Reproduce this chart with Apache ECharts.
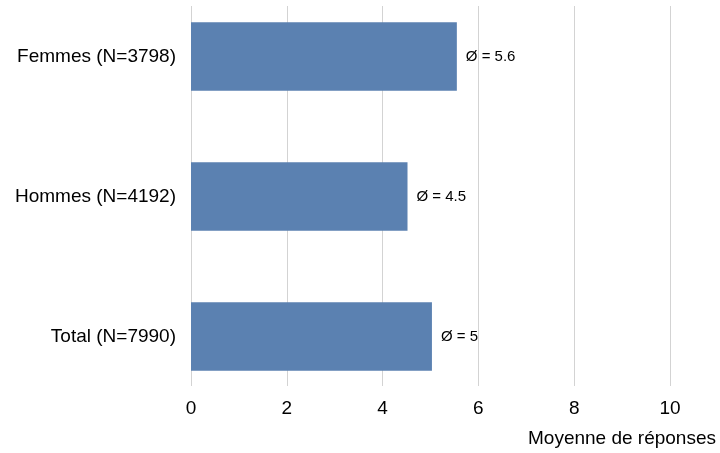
<!DOCTYPE html>
<html>
<head>
<meta charset="utf-8">
<script src="https://cdn.jsdelivr.net/npm/echarts@6/dist/echarts.min.js"></script>
<style>html,body{margin:0;padding:0;background:#fff}#c{width:720px;height:453px}</style>
</head>
<body>
<div id="c"></div>
<script>
const categories = ['Femmes (N=3798)', 'Hommes (N=4192)', 'Total (N=7990)'];
const values = [5.55, 4.52, 5.03];
const valueLabels = ['5.6', '4.5', '5'];
const xTicks = [0, 2, 4, 6, 8, 10];
const axisTitle = 'Moyenne de réponses';

const chart = echarts.init(document.getElementById('c'), null, {renderer: 'canvas'});
const font = 'Liberation Sans, Arial, sans-serif';
chart.setOption({
  animation: false,
  backgroundColor: '#fff',
  grid: [
    {left: 191, right: 50, top: 56.5, bottom: 116.5},
    {left: 191, right: 50, top: 6, bottom: 67}
  ],
  xAxis: [
    {gridIndex: 0, type: 'value', min: xTicks[0], max: xTicks[xTicks.length - 1], show: false},
    {gridIndex: 1, type: 'value', min: xTicks[0], max: xTicks[xTicks.length - 1], interval: 2,
     axisLine: {show: false}, axisTick: {show: false},
     splitLine: {show: true, lineStyle: {color: '#d3d3d3', width: 1}},
     axisLabel: {color: '#000', fontSize: 19, fontFamily: font, margin: 13},
     name: axisTitle, nameLocation: 'end', nameGap: 46,
     nameTextStyle: {color: '#000', fontSize: 19, fontFamily: font, align: 'right', verticalAlign: 'top', padding: [43, 0, 0, 0]}
    }
  ],
  yAxis: [
    {gridIndex: 0, type: 'category', data: categories, inverse: true, boundaryGap: false,
     axisLine: {show: false}, axisTick: {show: false}, splitLine: {show: false},
     axisLabel: {color: '#000', fontSize: 19, fontFamily: font, margin: 15}},
    {gridIndex: 1, type: 'value', show: false}
  ],
  series: [{
    type: 'bar', xAxisIndex: 0, yAxisIndex: 0, clip: false,
    data: values, barWidth: 68.5,
    itemStyle: {color: '#5b81b1'},
    label: {show: true, position: 'right', distance: 9, color: '#000', fontSize: 15, fontFamily: font,
      formatter: p => 'Ø = ' + valueLabels[p.dataIndex]}
  }]
});
</script>
</body>
</html>
